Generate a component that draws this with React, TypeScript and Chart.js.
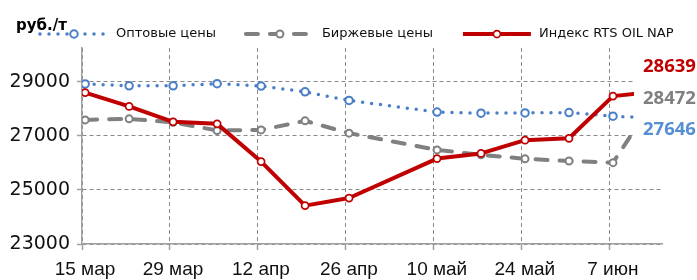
import { useEffect, useRef } from 'react';
import { Chart, registerables } from 'chart.js';

Chart.register(...registerables);

// Days counted from 15 March (weekly observations)
const dayOffsets = [0, 7, 14, 21, 28, 35, 42, 49, 56, 63, 70, 77, 84, 91];
const xTickLabels = ['15 мар', '29 мар', '12 апр', '26 апр', '10 май', '24 май', '7 июн'];
const yTickValues = [23000, 25000, 27000, 29000];
const unitLabel = 'руб./т';
const seriesNames = ['Оптовые цены', 'Биржевые цены', 'Индекс RTS OIL NAP'];

const wholesalePrices = [28920, 28850, 28850, 28930, 28840, 28630, 28310, null, 27880, 27840, 27850, 27860, 27730, 27646];
const exchangePrices = [27590, 27630, 27500, 27200, 27220, 27555, 27100, null, 26480, 26300, 26150, 26070, 26010, 28472];
const rtsIndex = [28600, 28090, 27520, 27444, 26050, 24420, 24700, null, 26160, 26350, 26840, 26910, 28470, 28639];

const BLUE = '#4A7EC7';
const BLUE_TEXT = '#558ED5';
const GRAY = '#808080';
const RED = '#C00000';
const GRID = '#8A8A8A';
const AXIS = '#A0A0A0';

const toPoints = (vals: (number | null)[]) => dayOffsets.map((d, i) => ({ x: d, y: vals[i] }));

export default function App() {
  const ref = useRef<HTMLCanvasElement | null>(null);

  useEffect(() => {
    document.body.style.margin = '0';
    const canvas = ref.current;
    if (!canvas) return;

    const datasets: any[] = [
      {
        label: seriesNames[0],
        data: toPoints(wholesalePrices),
        borderColor: BLUE,
        borderWidth: 3.5,
        borderDash: [0, 9],
        borderCapStyle: 'round',
        pointRadius: 3.75,
        pointBorderWidth: 2,
        pointBackgroundColor: '#fff',
        pointBorderColor: BLUE,
        spanGaps: true,
        order: 3,
        labelColor: BLUE_TEXT,
      },
      {
        label: seriesNames[1],
        data: toPoints(exchangePrices),
        borderColor: GRAY,
        borderWidth: 4,
        borderDash: [12, 12],
        borderCapStyle: 'round',
        pointRadius: 3.5,
        pointBorderWidth: 2,
        pointBackgroundColor: '#fff',
        pointBorderColor: GRAY,
        spanGaps: true,
        order: 2,
        labelColor: GRAY,
      },
      {
        label: seriesNames[2],
        data: toPoints(rtsIndex),
        borderColor: RED,
        borderWidth: 4,
        borderJoinStyle: 'round',
        pointRadius: 3.5,
        pointBorderWidth: 1.75,
        pointBackgroundColor: '#fff',
        pointBorderColor: RED,
        spanGaps: true,
        order: 1,
        labelColor: RED,
      },
    ];

    const lastValues = [wholesalePrices, exchangePrices, rtsIndex].map((a) => a[a.length - 1]);

    const legendPlugin = {
      id: 'customLegend',
      afterDraw(chart: any) {
        const ctx = chart.ctx;
        ctx.save();
        // unit label
        ctx.fillStyle = '#000';
        ctx.font = 'bold 15px "DejaVu Sans"';
        ctx.textBaseline = 'alphabetic';
        ctx.textAlign = 'left';
        ctx.fillText(unitLabel, 16, 30);

        // legend items
        ctx.font = '13px "DejaVu Sans"';
        ctx.textBaseline = 'middle';
        const y = 34;
        let x = 40;
        const sampleLen = 68;
        datasets.forEach((ds) => {
          ctx.save();
          ctx.strokeStyle = ds.borderColor;
          ctx.lineWidth = ds.borderWidth;
          ctx.lineCap = ds.borderCapStyle || 'butt';
          ctx.setLineDash(ds.borderDash || []);
          ctx.beginPath();
          ctx.moveTo(x, y);
          ctx.lineTo(x + sampleLen, y);
          ctx.stroke();
          ctx.setLineDash([]);
          ctx.beginPath();
          ctx.arc(x + sampleLen / 2, y, ds.pointRadius, 0, Math.PI * 2);
          ctx.fillStyle = '#fff';
          ctx.fill();
          ctx.lineWidth = ds.pointBorderWidth;
          ctx.strokeStyle = ds.pointBorderColor;
          ctx.stroke();
          ctx.restore();
          ctx.fillStyle = '#111';
          const tx = x + sampleLen + 8;
          ctx.fillText(ds.label, tx, y);
          x = tx + ctx.measureText(ds.label).width + 30;
        });
        ctx.restore();
      },
    };

    const endLabelsPlugin = {
      id: 'endLabels',
      afterDatasetsDraw(chart: any) {
        const ctx = chart.ctx;
        const area = chart.chartArea;
        ctx.save();
        ctx.fillStyle = '#fff';
        ctx.fillRect(area.right - 28, area.top + 2, chart.width - (area.right - 28), 94);
        ctx.font = 'bold 18.5px "Open Sans"';
        ctx.textAlign = 'left';
        ctx.textBaseline = 'alphabetic';
        const order = [2, 1, 0];
        order.forEach((idx, k) => {
          ctx.fillStyle = datasets[idx].labelColor;
          ctx.fillText(String(lastValues[idx]), area.right - 19, area.top + 24 + 31.5 * k);
        });
        ctx.restore();
      },
    };

    const chart = new Chart(canvas, {
      type: 'line',
      data: { datasets },
      options: {
        responsive: false,
        animation: false,
        events: [],
        layout: { padding: { top: 48, right: 35, left: 0, bottom: 0 } },
        plugins: { legend: { display: false }, tooltip: { enabled: false } },
        scales: {
          x: {
            type: 'linear',
            min: -0.5,
            max: 91.8,
            afterBuildTicks: (s: any) => {
              s.ticks = xTickLabels.map((_, i) => ({ value: -0.5 + 14 * i }));
            },
            afterFit: (s: any) => {
              s.height = 36;
            },
            ticks: {
              callback: (_v: any, i: number) => xTickLabels[i],
              labelOffset: 3,
              padding: 8,
              maxRotation: 0,
              autoSkip: false,
              font: { family: '"Liberation Sans"', size: 19 },
              color: '#111',
            },
            grid: { color: GRID, lineWidth: 1, tickLength: 6, tickColor: AXIS, tickWidth: 1.5 },
            border: { color: AXIS, width: 1.5, dash: [4, 3] },
          },
          y: {
            min: 23000,
            max: 30250,
            afterBuildTicks: (s: any) => {
              s.ticks = yTickValues.map((v) => ({ value: v }));
            },
            afterFit: (s: any) => {
              s.width = 82;
            },
            ticks: {
              callback: (v: any) => String(v),
              padding: 7,
              font: { family: '"DejaVu Sans"', size: 19 },
              color: '#111',
            },
            grid: { color: GRID, lineWidth: 1, tickLength: 5, tickColor: AXIS, tickWidth: 1.5 },
            border: { color: AXIS, width: 1.5, dash: [4, 3] },
          },
        },
      } as any,
      plugins: [legendPlugin, endLabelsPlugin],
    });

    return () => chart.destroy();
  }, []);

  return (
    <div style={{ width: 697, height: 280 }}>
      <canvas ref={ref} width={697} height={280} style={{ display: 'block', width: 697, height: 280 }} />
    </div>
  );
}
